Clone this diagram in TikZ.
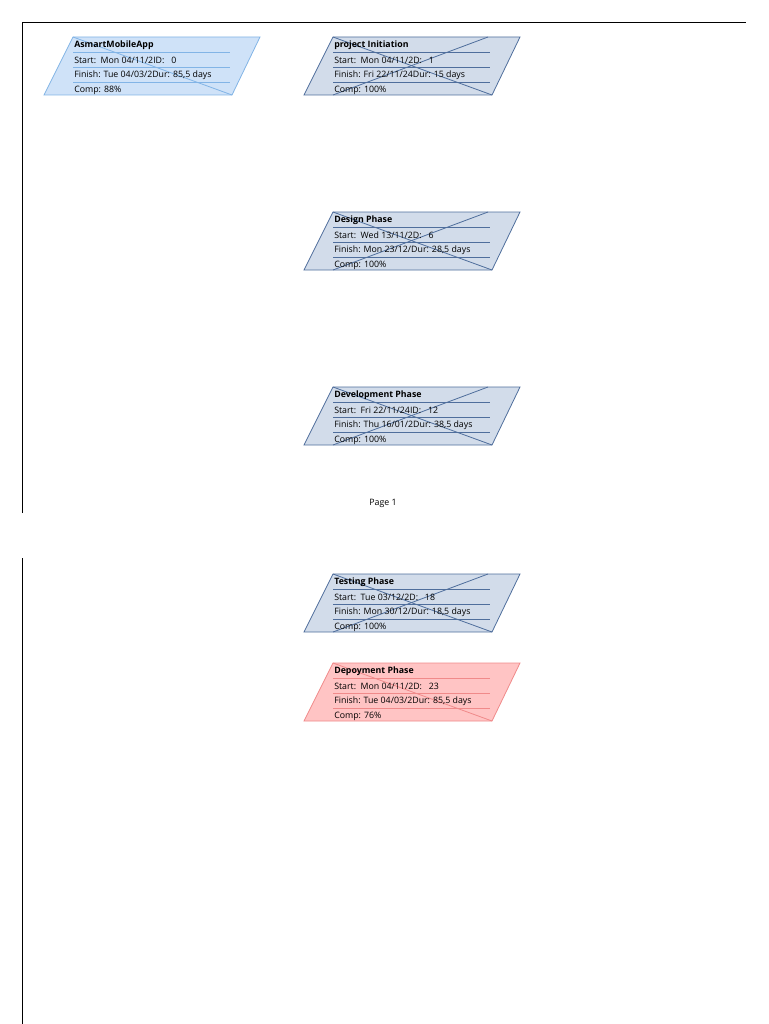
\documentclass[tikz,border=0pt]{standalone}
\usepackage{fontspec}
\setmainfont{Open Sans}
\begin{document}
\begin{tikzpicture}[x=0.75pt,y=-0.75pt,
  frame/.style={draw=black,line width=0.7pt},
  bluecard/.style={draw=cardblueline,fill=cardblue,line width=0.6pt},
  graycard/.style={draw=cardgrayline,fill=cardgray,line width=0.6pt},
  pinkcard/.style={draw=cardpinkline,fill=cardpink,line width=0.6pt},
  rowtext/.style={anchor=west,inner sep=0pt,font=\fontsize{6.6}{7}\selectfont},
  titletext/.style={anchor=west,inner sep=0pt,font=\fontsize{6.6}{7}\selectfont\bfseries},
  pagetext/.style={inner sep=0pt,font=\fontsize{6.6}{7}\selectfont}]
\definecolor{cardblue}{HTML}{CFE2F8}
\definecolor{cardblueline}{HTML}{82B4E6}
\definecolor{cardgray}{HTML}{D2DCEA}
\definecolor{cardgrayline}{HTML}{4F6E9C}
\definecolor{cardpink}{HTML}{FFC4C4}
\definecolor{cardpinkline}{HTML}{F08A8A}
\useasboundingbox (0,0) rectangle (768,1024);
% page frames
\coordinate (p1a) at (22,513);
\coordinate (p1b) at (22,22);
\coordinate (p1c) at (746,22);
\draw[frame] (p1a) -- (p1b) -- (p1c);
\coordinate (p2a) at (22,558);
\coordinate (p2b) at (22,1024);
\draw[frame] (p2a) -- (p2b);
\node[pagetext] (pagelabel) at (383,503.5) {Page 1};
% card macro: name, x, y, style, title, start, finish, comp, cross(1/2)
\newcommand\drawcard[9]{%
  \begin{scope}[shift={(#2,#3)}]
    \coordinate (#1-tl) at (0,0);
    \coordinate (#1-tr) at (187,0);
    \coordinate (#1-br) at (159,58);
    \coordinate (#1-bl) at (-29,58);
    \path[#4] (#1-tl) -- (#1-tr) -- (#1-br) -- (#1-bl) -- cycle;
    \draw[#4,fill=none] (0,15) -- (157,15) (0,30) -- (157,30) (0,45) -- (157,45);
    \draw[#4,fill=none] (#1-tl) -- (#1-br);
    \ifnum#9=2 \coordinate (#1-tx) at (155,0); \draw[#4,fill=none] (#1-tx) -- (0,58);\fi
    \node[titletext] (#1-title) at (1,8.5) {#5};
    \node[rowtext] (#1-start) at (1,23) {#6};
    \node[rowtext] (#1-finish) at (1,38) {#7};
    \node[rowtext] (#1-comp) at (1,53) {#8};
  \end{scope}}
\drawcard{app}{73}{37}{bluecard}{AsmartMobileApp}{Start:\ \ Mon 04/11/2ID:\ \ \ 0}{Finish: Tue 04/03/2Dur: 85,5 days}{Comp: 88\%}{1}
\drawcard{init}{333}{37}{graycard}{project Initiation}{Start:\ \ Mon 04/11/2D:\ \ \ 1}{Finish: Fri 22/11/24Dur: 15 days}{Comp: 100\%}{2}
\drawcard{design}{333}{212}{graycard}{Design Phase}{Start:\ \ Wed 13/11/2D:\ \ \ 6}{Finish: Mon 23/12/Dur: 28,5 days}{Comp: 100\%}{2}
\drawcard{dev}{333}{387}{graycard}{Development Phase}{Start:\ \ Fri 22/11/24ID:\ \ \ 12}{Finish: Thu 16/01/2Dur: 38,5 days}{Comp: 100\%}{2}
\drawcard{test}{333}{574}{graycard}{Testing Phase}{Start:\ \ Tue 03/12/2D:\ \ \ 18}{Finish: Mon 30/12/Dur: 18,5 days}{Comp: 100\%}{2}
\drawcard{deploy}{333}{663}{pinkcard}{Depoyment Phase}{Start:\ \ Mon 04/11/2D:\ \ \ 23}{Finish: Tue 04/03/2Dur: 85,5 days}{Comp: 76\%}{1}
\end{tikzpicture}
\end{document}
